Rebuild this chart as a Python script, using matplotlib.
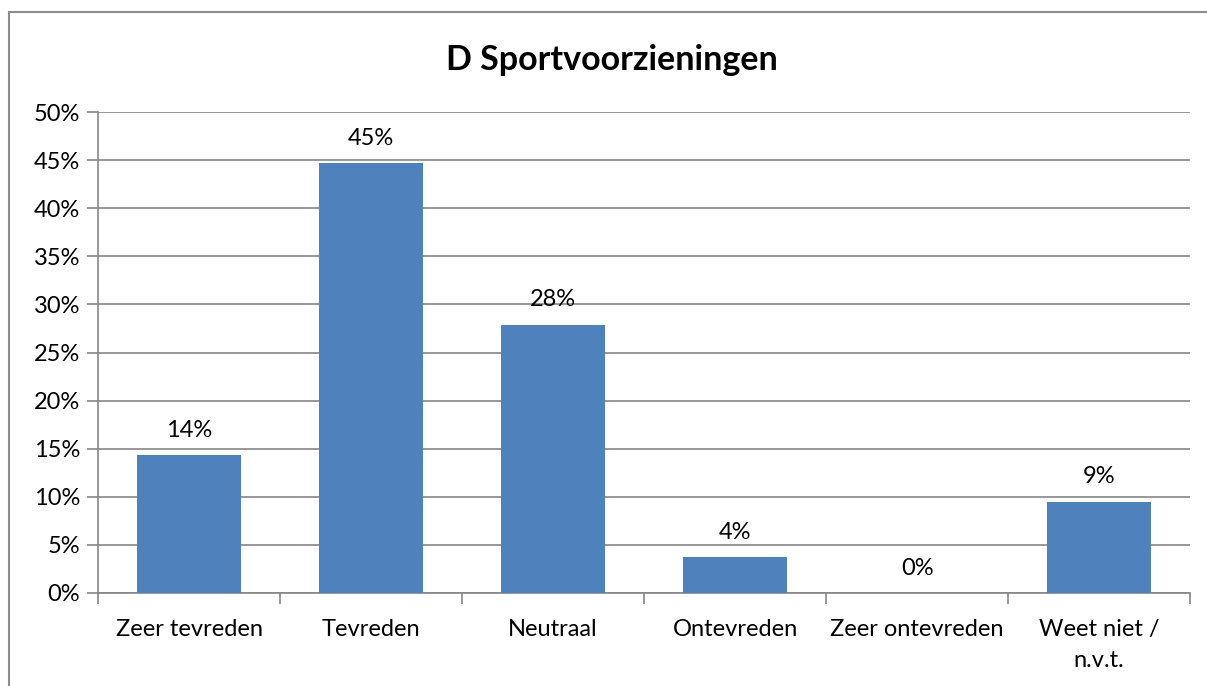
import numpy as np
import matplotlib
matplotlib.use("Agg")
from matplotlib import pyplot as plt
from matplotlib.lines import Line2D

categories = ["Zeer tevreden", "Tevreden", "Neutraal", "Ontevreden", "Zeer ontevreden", "Weet niet /\nn.v.t."]
values = [14.3, 44.7, 27.9, 3.7, 0.0, 9.5]
labels = ["14%", "45%", "28%", "4%", "0%", "9%"]
yticks = [0, 5, 10, 15, 20, 25, 30, 35, 40, 45, 50]

plt.rcParams['font.family'] = ['Lato', 'DejaVu Sans']
grid_col = '#868686'
fs = 17

fig = plt.figure(figsize=(12.07, 6.86), dpi=100)
ax = fig.add_axes([0.0812, 0.1356, 0.9048, 0.7011])

# chart border: only the left and top edges fall inside the picture
bx, by = 9 / 1207, 1 - 12 / 686
fig.add_artist(Line2D([bx, bx], [-0.05, by], color='#8c8c8c', lw=1.5))
fig.add_artist(Line2D([bx, 1.05], [by, by], color='#8c8c8c', lw=1.5))

x = np.arange(len(categories))
ax.bar(x, values, width=0.57, color='#4F81BD', zorder=3)
for xi, v, lab in zip(x, values, labels):
    ax.text(xi, v + 1.5, lab, ha='center', va='bottom', fontsize=fs)

ax.set_xlim(-0.5, len(categories) - 0.5)
ax.set_ylim(0, 50)
ax.set_yticks(yticks)
ax.set_yticklabels([f"{t}%" for t in yticks], fontsize=fs)
ax.yaxis.grid(True, color=grid_col, lw=1.2, zorder=0)
ax.tick_params(axis='y', direction='out', length=8, width=1.2, color=grid_col, pad=5)

ax.set_xticks(x)
ax.set_xticklabels(categories, fontsize=fs, linespacing=1.55, va='top')
ax.tick_params(axis='x', length=0, pad=19)
ax.set_xticks(np.arange(-0.5, len(categories)), minor=True)
ax.tick_params(axis='x', which='minor', direction='out', length=8, width=1.2, color=grid_col)

for side in ['top', 'right']:
    ax.spines[side].set_visible(False)
for side in ['left', 'bottom']:
    ax.spines[side].set_color(grid_col)
    ax.spines[side].set_linewidth(1.2)

fig.text(612 / 1207, 1 - 60 / 686, "D Sportvoorzieningen", ha='center', va='center',
         fontsize=24.5, fontweight='bold')

fig.savefig("out.png", dpi=100)
